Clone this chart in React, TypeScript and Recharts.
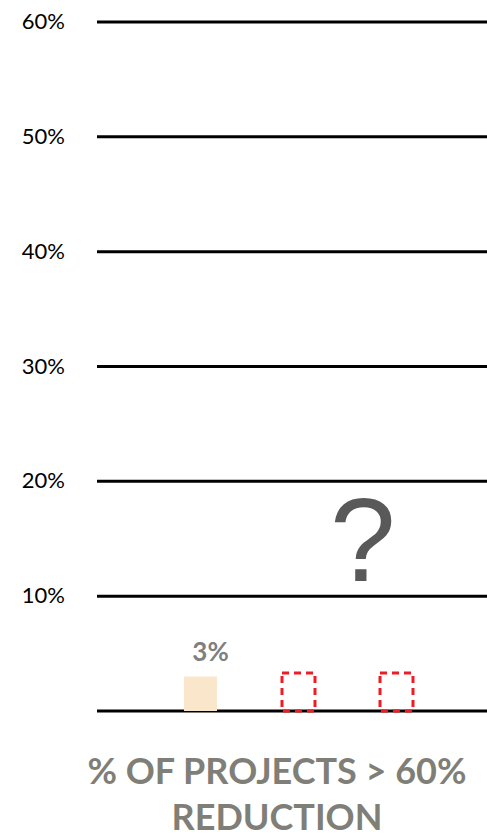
import { Bar, BarChart, CartesianGrid, LabelList, XAxis, YAxis } from "recharts";

const CATEGORIES = ["Current", "Target A", "Target B"];
const ACTUAL = [3, null, null];
const PLACEHOLDER = [null, 3.3, 3.3];
const Y_TICKS = [10, 20, 30, 40, 50, 60];
const GRID_VALUES = [0, 10, 20, 30, 40, 50, 60];
const TITLE = ["% OF PROJECTS > 60%", "REDUCTION"];

const FONT = "Lato, 'Open Sans', sans-serif";

const rows = CATEGORIES.map((c, i) => ({
  name: c,
  actual: ACTUAL[i],
  placeholder: PLACEHOLDER[i],
}));

const YTick = ({ y, payload }: any) => (
  <text x={65} y={y} dy={7} textAnchor="end" fontSize={22} fontFamily={FONT} fill="#000">
    {`${payload.value}%`}
  </text>
);

const ValueLabel = ({ x, y, width, value }: any) =>
  value == null ? null : (
    <text
      x={x + width / 2 + 10}
      y={y - 16}
      textAnchor="middle"
      fontSize={26}
      fontWeight={700}
      fontFamily={FONT}
      fill="#7f7f7f"
    >
      {`${value}%`}
    </text>
  );

export default function App() {
  return (
    <div style={{ position: "absolute", left: 0, top: 0, width: 487, height: 837, background: "#fff" }}>
      <BarChart
        width={487}
        height={837}
        data={rows}
        margin={{ top: 22, right: 0, bottom: 126, left: 0 }}
        barSize={33}
      >
        <CartesianGrid
          vertical={false}
          horizontalValues={GRID_VALUES}
          stroke="#000"
          strokeWidth={3}
        />
        <XAxis dataKey="name" hide padding={{ left: 54, right: 42 }} />
        <YAxis
          width={97}
          domain={[0, 60]}
          ticks={Y_TICKS}
          axisLine={false}
          tickLine={false}
          tick={<YTick />}
        />
        <Bar dataKey="actual" stackId="a" fill="#f9e6cb" isAnimationActive={false}>
          <LabelList dataKey="actual" content={<ValueLabel />} />
        </Bar>
        <Bar
          dataKey="placeholder"
          stackId="a"
          fill="none"
          stroke="#ee1c25"
          strokeWidth={3}
          strokeDasharray="7 5"
          isAnimationActive={false}
        />
      </BarChart>
      <div
        style={{
          position: "absolute",
          left: 330,
          top: 475,
          fontFamily: "'Liberation Sans', Arial, sans-serif",
          fontSize: 118,
          color: "#595959",
          lineHeight: "130px",
        }}
      >
        ?
      </div>
      <div
        style={{
          position: "absolute",
          left: 57,
          width: 440,
          top: 747,
          textAlign: "center",
          fontFamily: FONT,
          fontWeight: 700,
          fontSize: 36,
          lineHeight: "46px",
          color: "#7f7f77",
        }}
      >
        {TITLE.map((t) => (
          <div key={t}>{t}</div>
        ))}
      </div>
    </div>
  );
}
